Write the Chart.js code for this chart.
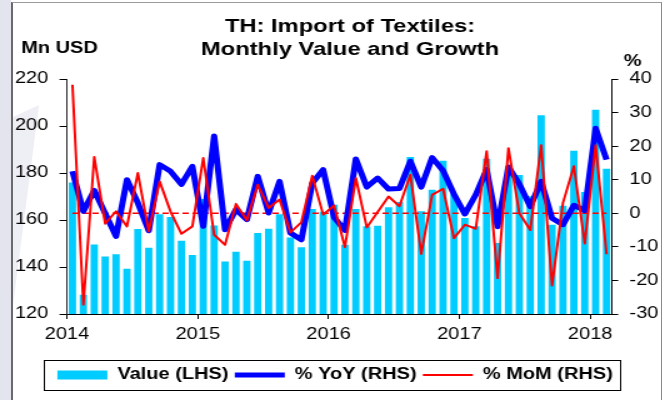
<!DOCTYPE html>
<html>
<head>
<meta charset="utf-8">
<script src="https://cdn.jsdelivr.net/npm/chart.js@4.4.1/dist/chart.umd.min.js"></script>
<style>
  body { margin: 0; background: #fff; }
  #wrap { position: relative; width: 670px; height: 400px; overflow: hidden; background: #fff; }
  #strip { position: absolute; left: 0; top: 0; width: 11px; height: 400px; background: #e4e4ee; }
  #frame { position: absolute; left: 11px; top: 2px; width: 648px; height: 400px;
           border-left: 2px solid #6a6a6a; border-top: 1px solid #9a9a9a; border-right: 1px solid #8a8a8a; }
  #swoosh { position: absolute; left: 13px; top: 105px; width: 26px; height: 200px; background: #eeeef5;
            clip-path: polygon(0 6%, 100% 0, 0 100%); }
  canvas { position: absolute; left: 0; top: 0; }
</style>
</head>
<body>
<div id="wrap">
  <div id="strip"></div>
  <div id="swoosh"></div>
  <div id="frame"></div>
  <!-- drawn narrower and stretched sideways, like the original picture -->
  <canvas id="chart" width="536" height="400" style="width:670px;height:400px"></canvas>
</div>
<script>
document.addEventListener("DOMContentLoaded", function () {

    // ===============================
    // DATA
    // ===============================
    const months = [
        'Jan 2014', 'Feb 2014', 'Mar 2014', 'Apr 2014', 'May 2014', 'Jun 2014', 'Jul 2014', 'Aug 2014', 'Sep 2014', 'Oct 2014', 'Nov 2014', 'Dec 2014',
        'Jan 2015', 'Feb 2015', 'Mar 2015', 'Apr 2015', 'May 2015', 'Jun 2015', 'Jul 2015', 'Aug 2015', 'Sep 2015', 'Oct 2015', 'Nov 2015', 'Dec 2015',
        'Jan 2016', 'Feb 2016', 'Mar 2016', 'Apr 2016', 'May 2016', 'Jun 2016', 'Jul 2016', 'Aug 2016', 'Sep 2016', 'Oct 2016', 'Nov 2016', 'Dec 2016',
        'Jan 2017', 'Feb 2017', 'Mar 2017', 'Apr 2017', 'May 2017', 'Jun 2017', 'Jul 2017', 'Aug 2017', 'Sep 2017', 'Oct 2017', 'Nov 2017', 'Dec 2017',
        'Jan 2018', 'Feb 2018'
    ];

    // Mn USD
    const valueLHS = [
        176.0, 128.2, 149.6, 144.5, 145.4, 139.3, 156.2, 148.2, 162.4, 161.3, 151.2, 145.1,
        168.9, 157.7, 142.3, 146.5, 142.7, 154.5, 156.3, 162.4, 152.6, 148.4, 164.7, 163.5,
        166.5, 149.5, 164.7, 157.3, 157.6, 165.4, 167.7, 186.8, 163.7, 172.9, 185.2, 171.2,
        160.9, 157.3, 186.1, 150.2, 182.0, 179.2, 170.1, 204.6, 158.0, 166.1, 189.5, 171.9,
        206.9, 181.8
    ];

    // %
    const yoyRHS = [
        12.5, 0.6, 6.8, 0.0, -6.9, 10.0, 3.1, -5.2, 14.5, 12.5, 8.6, 14.0,
        -3.9, 23.0, -4.9, 1.1, -1.9, 11.0, 0.1, 9.5, -5.9, -7.9, 9.0, 13.0,
        -1.2, -5.1, 16.2, 7.8, 10.5, 7.2, 7.4, 15.5, 7.8, 16.6, 12.7, 5.7,
        -0.2, 5.5, 13.0, -4.0, 13.8, 8.7, 2.0, 9.5, -1.5, -3.4, 2.4, 0.8,
        25.3, 16.0
    ];

    const momRHS = [
        38.3, -27.2, 16.8, -3.1, 0.6, -3.9, 12.0, -5.4, 9.5, 0.5, -6.1, -3.9,
        16.5, -6.4, -9.4, 2.8, -2.1, 8.5, 1.6, 4.1, -5.7, -2.7, 11.2, -0.4,
        2.3, -10.1, 10.5, -4.2, 0.4, 5.0, 2.1, 11.5, -12.1, 5.5, 7.3, -7.4,
        -3.4, -4.6, 18.5, -19.3, 19.4, 0.0, -5.0, 20.3, -21.5, 3.1, 14.0, -9.0,
        20.3, -12.2
    ];

    const leftTicks = [120, 140, 160, 180, 200, 220];
    const rightTicks = [-30, -20, -10, 0, 10, 20, 30, 40];
    const titleLines = ['TH: Import of Textiles:', 'Monthly Value and Growth'];
    const leftUnit = 'Mn USD';
    const rightUnit = '%';

    // zero reference line on the right axis
    const zeroLine = months.map(() => 0);
    // year ticks sit on the January boundaries
    const yearStarts = months.map((m, i) => m.startsWith('Jan') ? i : -1).filter(i => i >= 0);

    const FONT = "'Liberation Sans', Arial, sans-serif";
    Chart.defaults.font.family = FONT;
    Chart.defaults.font.size = 16;
    Chart.defaults.color = '#000';

    // ===============================
    // TITLE, UNITS, LEGEND FRAME
    // ===============================
    const extras = {
        id: 'extras',
        afterDraw(chart) {
            const ctx = chart.ctx;
            ctx.save();
            ctx.fillStyle = '#000';
            ctx.textAlign = 'center';
            ctx.font = 'bold 19px ' + FONT;
            ctx.fillText(titleLines[0], 280, 27);
            ctx.fillText(titleLines[1], 280, 50);

            ctx.font = 'bold 16px ' + FONT;
            ctx.textAlign = 'left';
            ctx.fillText(leftUnit, 17, 49);
            ctx.textAlign = 'center';
            ctx.fillText(rightUnit, 506, 62);

            const boxes = chart.legend.legendHitBoxes;
            if (boxes.length) {
                const first = boxes[0];
                const last = boxes[boxes.length - 1];
                const left = first.left - 11;
                const right = last.left + last.width + 6;
                const mid = first.top + first.height / 2;
                ctx.strokeStyle = '#000';
                ctx.lineWidth = 1;
                ctx.strokeRect(Math.round(left) + 0.5, Math.round(mid - 15) + 0.5, Math.round(right - left), 30);
            }
            ctx.restore();
        }
    };

    const canvas = document.getElementById("chart");

    new Chart(canvas, {
        data: {
            labels: months,
            datasets: [
                {
                    type: 'line',
                    label: '% MoM (RHS)',
                    data: momRHS,
                    yAxisID: 'y1',
                    borderColor: '#ff0000',
                    borderWidth: 2,
                    pointRadius: 0,
                    pointBorderWidth: 2,
                    pointBorderColor: '#ff0000',
                    tension: 0,
                    borderJoinStyle: 'round',
                    order: 1
                },
                {
                    type: 'line',
                    label: '% YoY (RHS)',
                    data: yoyRHS,
                    yAxisID: 'y1',
                    borderColor: '#0000ff',
                    borderWidth: 5,
                    pointRadius: 0,
                    pointBorderWidth: 5,
                    pointBorderColor: '#0000ff',
                    tension: 0,
                    borderJoinStyle: 'round',
                    order: 2
                },
                {
                    type: 'line',
                    label: 'zero',
                    data: zeroLine,
                    yAxisID: 'y1',
                    borderColor: '#ff0000',
                    borderWidth: 1.5,
                    borderDash: [5, 3],
                    pointRadius: 0,
                    order: 3
                },
                {
                    type: 'bar',
                    label: 'Value (LHS)',
                    data: valueLHS,
                    yAxisID: 'y',
                    backgroundColor: '#00ccff',
                    borderWidth: 0,
                    barPercentage: 0.67,
                    categoryPercentage: 1,
                    order: 4
                }
            ]
        },
        options: {
            responsive: false,
            devicePixelRatio: 1,
            animation: false,
            layout: {
                padding: { top: 79, left: 8.6, right: 8.4, bottom: 7 }
            },
            plugins: {
                title: { display: false },
                tooltip: { enabled: false },
                legend: {
                    position: 'bottom',
                    reverse: true,
                    labels: {
                        usePointStyle: true,
                        pointStyleWidth: 40,
                        boxHeight: 9,
                        padding: 5,
                        color: '#000',
                        font: { size: 16, weight: 'bold' },
                        filter: item => item.text !== 'zero',
                        generateLabels: chart => Chart.defaults.plugins.legend.labels.generateLabels(chart).map(item => {
                            const ds = chart.data.datasets[item.datasetIndex];
                            item.pointStyle = ds.type === 'bar' ? 'rect' : 'line';
                            item.lineWidth = ds.type === 'bar' ? 0 : ds.borderWidth;
                            return item;
                        })
                    }
                }
            },
            scales: {
                x: {
                    display: false,
                    offset: true
                },
                xYears: {
                    type: 'linear',
                    position: 'bottom',
                    min: 0,
                    max: months.length,
                    afterBuildTicks: s => { s.ticks = yearStarts.map(v => ({ value: v })); },
                    afterFit: s => { s.height = 48; },
                    ticks: {
                        callback: v => months[v].slice(-4),
                        padding: 6,
                        maxRotation: 0,
                        autoSkip: false,
                        font: { size: 16 }
                    },
                    grid: { drawOnChartArea: false, drawTicks: true, tickLength: 5, color: '#000' },
                    border: { color: '#000', width: 1 }
                },
                y: {
                    position: 'left',
                    min: leftTicks[0],
                    max: leftTicks[leftTicks.length - 1],
                    afterBuildTicks: s => { s.ticks = leftTicks.map(v => ({ value: v })); },
                    afterFit: s => { s.width = 45; },
                    ticks: { padding: 9, font: { size: 16 } },
                    grid: { drawOnChartArea: false, drawTicks: true, tickLength: 6, color: '#000' },
                    border: { color: '#222', width: 1 }
                },
                y1: {
                    position: 'right',
                    min: rightTicks[0],
                    max: rightTicks[rightTicks.length - 1],
                    afterBuildTicks: s => { s.ticks = rightTicks.map(v => ({ value: v })); },
                    afterFit: s => { s.width = 38; },
                    ticks: { padding: 9, font: { size: 16 } },
                    grid: { drawOnChartArea: false, drawTicks: true, tickLength: 5, color: '#000' },
                    border: { color: '#000', width: 1 }
                }
            }
        },
        plugins: [extras]
    });
});
</script>
</body>
</html>
